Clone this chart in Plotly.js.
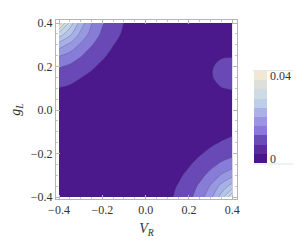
<!DOCTYPE html>
<html>
<head>
<meta charset="utf-8">
<script src="https://cdn.plot.ly/plotly-3.0.1.min.js"></script>
<style>html,body{margin:0;padding:0;background:#fff;}#chart{width:300px;height:241px;}</style>
</head>
<body>
<div id="chart"></div>
<script>
// grid coordinates
var vR = [-0.4,-0.35,-0.3,-0.25,-0.2,-0.15,-0.1,-0.05,0,0.05,0.1,0.15,0.2,0.25,0.3,0.35,0.4];
var gL = [-0.4,-0.35,-0.3,-0.25,-0.2,-0.15,-0.1,-0.05,0,0.05,0.1,0.15,0.2,0.25,0.3,0.35,0.4];
// values, one row per gL (bottom to top)
var row_m40 = [0.0002,0.0002,0.0002,0.0002,0.0003,0.0005,0.0007,0.001,0.0015,0.0021,0.0032,0.0047,0.0069,0.0101,0.0148,0.0218,0.032];
var row_m35 = [0.0002,0.0002,0.0002,0.0002,0.0003,0.0005,0.0007,0.0009,0.0013,0.002,0.0029,0.0042,0.006,0.0087,0.0124,0.0173,0.0218];
var row_m30 = [0.0002,0.0002,0.0002,0.0002,0.0003,0.0004,0.0006,0.0008,0.0011,0.0016,0.0024,0.0034,0.0048,0.0068,0.0093,0.0124,0.0148];
var row_m25 = [0.0003,0.0002,0.0002,0.0002,0.0002,0.0003,0.0005,0.0007,0.0009,0.0013,0.0019,0.0026,0.0037,0.0051,0.0068,0.0087,0.0101];
var row_m20 = [0.0004,0.0004,0.0003,0.0002,0.0002,0.0002,0.0004,0.0005,0.0007,0.0011,0.0015,0.002,0.0027,0.0037,0.0048,0.006,0.0069];
var row_m15 = [0.0006,0.0005,0.0005,0.0004,0.0003,0.0002,0.0003,0.0004,0.0006,0.0008,0.0011,0.0015,0.002,0.0026,0.0034,0.0042,0.0047];
var row_m10 = [0.0008,0.0008,0.0007,0.0005,0.0004,0.0003,0.0002,0.0002,0.0004,0.0006,0.0008,0.0011,0.0015,0.0019,0.0024,0.0029,0.0035];
var row_m05 = [0.0012,0.0011,0.001,0.0008,0.0006,0.0005,0.0003,0.0002,0.0002,0.0004,0.0006,0.0008,0.0011,0.0013,0.0016,0.0022,0.0024];
var row_p00 = [0.0018,0.0016,0.0014,0.0011,0.0009,0.0007,0.0005,0.0004,0.0003,0.0002,0.0004,0.0005,0.0007,0.0009,0.0011,0.0015,0.0017];
var row_p05 = [0.0026,0.0024,0.002,0.0016,0.0013,0.001,0.0007,0.0005,0.0004,0.0003,0.0002,0.0003,0.0005,0.001,0.0017,0.0022,0.0025];
var row_p10 = [0.0039,0.0035,0.0029,0.0023,0.0018,0.0013,0.001,0.0007,0.0005,0.0004,0.0003,0.0004,0.0008,0.0018,0.003,0.0039,0.0043];
var row_p15 = [0.0057,0.0051,0.0041,0.0032,0.0024,0.0018,0.0013,0.001,0.0007,0.0005,0.0004,0.0004,0.001,0.0022,0.0037,0.005,0.0056];
var row_p20 = [0.0084,0.0073,0.0059,0.0045,0.0033,0.0024,0.0018,0.0013,0.0009,0.0006,0.0004,0.0004,0.001,0.0021,0.0036,0.005,0.0055];
var row_p25 = [0.0123,0.0106,0.0083,0.0062,0.0045,0.0032,0.0023,0.0016,0.0011,0.0008,0.0005,0.0004,0.0008,0.0016,0.0028,0.0036,0.0037];
var row_p30 = [0.0181,0.0151,0.0114,0.0083,0.0059,0.0041,0.0029,0.002,0.0014,0.001,0.0007,0.0005,0.0004,0.0008,0.0016,0.002,0.0024];
var row_p35 = [0.0266,0.0211,0.0151,0.0106,0.0073,0.0051,0.0035,0.0024,0.0016,0.0011,0.0008,0.0005,0.0004,0.0003,0.0006,0.0009,0.0012];
var row_p40 = [0.039,0.0266,0.0181,0.0123,0.0084,0.0057,0.0039,0.0026,0.0018,0.0012,0.0008,0.0006,0.0004,0.0003,0.0003,0.0004,0.0005];

var tickVals = [-0.4,-0.2,0,0.2,0.4];
var legendTickVals = [0.002, 0.038];
var legendTickText = ['0', '0.04'];

// band colours
var plotColors = ['#4b198c','#7b67cf','#8c84dc','#9a9ce2','#a8b2e7','#b4c5ea','#c1d3ea','#cedbe6','#dcdfdb','#eee6d5'];
var legendColors = ['#4a1689','#5a2d9e','#6b4bb6','#8a78da','#9d93e1','#adb0e7','#bcceea','#cddbe5','#dedfd9','#f1e8d4'];

var zData = [row_m40,row_m35,row_m30,row_m25,row_m20,row_m15,row_m10,row_m05,row_p00,row_p05,row_p10,row_p15,row_p20,row_p25,row_p30,row_p35,row_p40];

var plotScale = [[0, plotColors[0]]];
for (var i = 0; i < plotColors.length; i++) plotScale.push([0.05 + 0.1 * i, plotColors[i]]);
plotScale.push([1, plotColors[plotColors.length - 1]]);

var legendScale = [];
for (var k = 0; k < legendColors.length; k++) {
  legendScale.push([k / 10, legendColors[k]]);
  legendScale.push([(k + 1) / 10, legendColors[k]]);
}

var serif = 'Liberation Serif, Times New Roman, serif';

var contour = {
  type: 'contour', x: vR, y: gL, z: zData,
  zmin: 0, zmax: 0.04, colorscale: plotScale, showscale: false,
  contours: {start: 0.004, end: 0.036, size: 0.004, coloring: 'fill'},
  line: {color: 'rgba(60,60,80,0.45)', width: 0.6, smoothing: 1},
  hoverinfo: 'skip'
};

var legendTrace = {
  type: 'scatter', mode: 'markers', x: [-10, -10], y: [0, 0],
  marker: {color: [0, 0.04], cmin: 0, cmax: 0.04, colorscale: legendScale, showscale: true, size: 1,
    colorbar: {x: 1.094, xanchor: 'left', xpad: 0, y: 0.715, yanchor: 'top', ypad: 0,
      len: 92, lenmode: 'pixels', thickness: 13, thicknessmode: 'pixels', outlinewidth: 0,
      tickvals: legendTickVals, ticktext: legendTickText, ticks: '', ticklen: 2,
      tickfont: {family: serif, size: 12, color: '#333'}}},
  hoverinfo: 'skip', showlegend: false
};

var axisCommon = {
  showgrid: false, zeroline: false, showline: true, mirror: 'allticks', linecolor: '#b5b5b5', linewidth: 1,
  ticks: 'inside', ticklen: 4, tickcolor: '#b5b5b5', tickvals: tickVals, tickformat: '.1f',
  tickfont: {family: serif, size: 12, color: '#333'},
  minor: {ticks: 'inside', ticklen: 2, dtick: 0.05, tick0: 0, tickcolor: '#c5c5c5', showgrid: false},
  fixedrange: true
};

var layout = {
  width: 300, height: 241,
  margin: {l: 56, r: 63, t: 20, b: 42},
  paper_bgcolor: '#fff', plot_bgcolor: '#fff',
  xaxis: Object.assign({}, axisCommon, {range: [-0.4139, 0.4217],
    title: {text: '<i>V</i><sub><i>R</i></sub>', font: {family: serif, size: 14, color: '#333'}, standoff: 6}}),
  yaxis: Object.assign({}, axisCommon, {range: [-0.4092, 0.4138],
    title: {text: '<i>g</i><sub><i>L</i></sub>', font: {family: serif, size: 14, color: '#333'}, standoff: 6}}),
  shapes: [
    {type: 'line', xref: 'paper', yref: 'paper', x0: 1.0884, x1: 1.3094, y0: 0.7168, y1: 0.7168, line: {color: '#e2e2e2', width: 1}},
    {type: 'line', xref: 'paper', yref: 'paper', x0: 1.0884, x1: 1.3094, y0: 0.1955, y1: 0.1955, line: {color: '#e2e2e2', width: 1}}
  ],
  showlegend: false
};

Plotly.newPlot('chart', [contour, legendTrace], layout, {staticPlot: true, displayModeBar: false});
</script>
</body>
</html>
